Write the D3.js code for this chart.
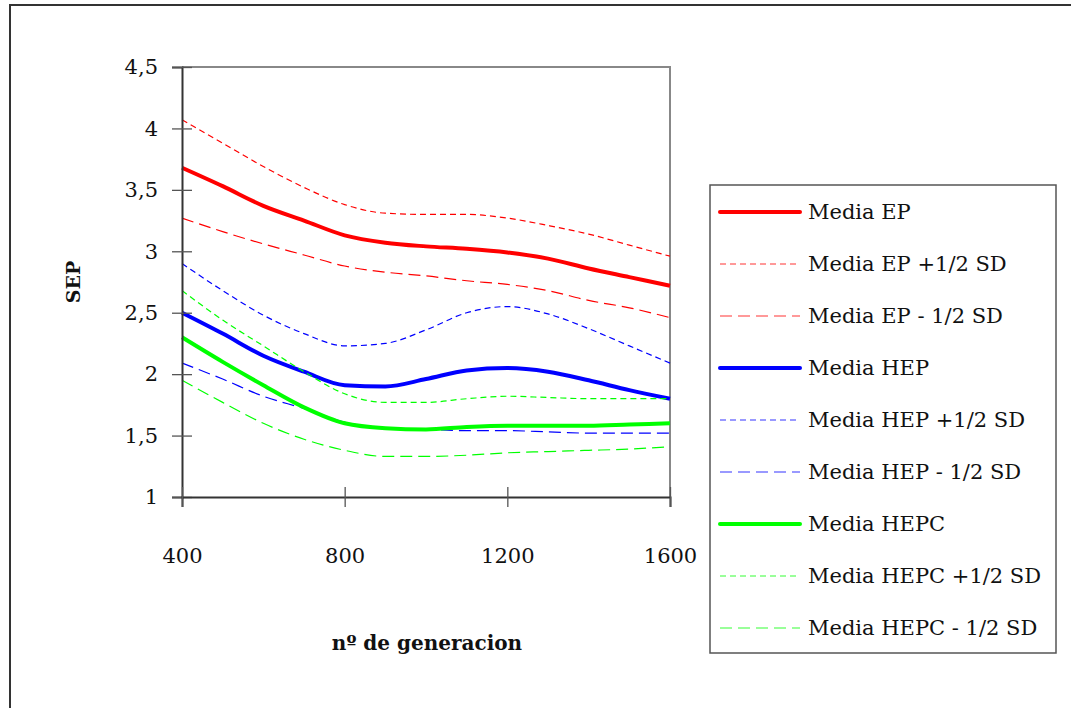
<!DOCTYPE html>
<html>
<head>
<meta charset="utf-8">
<script src="https://cdn.jsdelivr.net/npm/d3@7"></script>
<style>
  body { margin: 0; background: #fff; }
  svg { display: block; font-family: "DejaVu Serif"; }
</style>
</head>
<body>
<svg id="svg" width="1071" height="708"></svg>
<script>
// generations (x values)
const generations = [400, 500, 600, 700, 800, 900, 1000, 1100, 1200, 1300, 1400, 1500, 1600];

const mediaEP       = [3.68, 3.53, 3.37, 3.25, 3.13, 3.07, 3.04, 3.02, 2.99, 2.94, 2.86, 2.79, 2.72];
const mediaEPplus   = [4.07, 3.88, 3.69, 3.52, 3.38, 3.31, 3.30, 3.30, 3.27, 3.21, 3.14, 3.05, 2.96];
const mediaEPminus  = [3.27, 3.16, 3.06, 2.97, 2.88, 2.83, 2.80, 2.76, 2.73, 2.68, 2.60, 2.54, 2.46];
const mediaHEP      = [2.50, 2.33, 2.15, 2.02, 1.91, 1.90, 1.96, 2.03, 2.05, 2.02, 1.95, 1.87, 1.80];
const mediaHEPplus  = [2.90, 2.68, 2.48, 2.33, 2.23, 2.25, 2.36, 2.50, 2.55, 2.49, 2.37, 2.23, 2.09];
const mediaHEPminus = [2.09, 1.96, 1.82, 1.72, 1.61, 1.56, 1.55, 1.54, 1.54, 1.53, 1.52, 1.52, 1.52];
const mediaHEPC     = [2.30, 2.10, 1.91, 1.73, 1.60, 1.56, 1.55, 1.57, 1.58, 1.58, 1.58, 1.59, 1.60];
const mediaHEPCplus = [2.68, 2.44, 2.23, 2.02, 1.84, 1.77, 1.77, 1.80, 1.82, 1.81, 1.80, 1.80, 1.80];
const mediaHEPCminus= [1.95, 1.77, 1.60, 1.47, 1.38, 1.33, 1.33, 1.34, 1.36, 1.37, 1.38, 1.39, 1.41];

const yTicks = [1, 1.5, 2, 2.5, 3, 3.5, 4, 4.5];
const xTicks = [400, 800, 1200, 1600];

// series table: name, values, colour, style
const series = [
  { name: "Media EP",             values: mediaEP,        color: "#ff0000", kind: "solid" },
  { name: "Media EP +1/2 SD",     values: mediaEPplus,    color: "#ff0000", kind: "short" },
  { name: "Media EP - 1/2 SD",    values: mediaEPminus,   color: "#ff0000", kind: "long" },
  { name: "Media HEP",            values: mediaHEP,       color: "#0000ff", kind: "solid" },
  { name: "Media HEP +1/2 SD",    values: mediaHEPplus,   color: "#0000ff", kind: "short" },
  { name: "Media HEP - 1/2 SD",   values: mediaHEPminus,  color: "#0000ff", kind: "long" },
  { name: "Media HEPC",           values: mediaHEPC,      color: "#00ff00", kind: "solid" },
  { name: "Media HEPC +1/2 SD",   values: mediaHEPCplus,  color: "#00ff00", kind: "short" },
  { name: "Media HEPC - 1/2 SD",  values: mediaHEPCminus, color: "#00ff00", kind: "long" }
];

const styleFor = {
  solid: { width: 4, dash: null },
  short: { width: 1.2, dash: "6,4" },
  long:  { width: 1.2, dash: "12,6" }
};

const FONT = "DejaVu Serif";
const svg = d3.select("#svg");
const plot = { left: 182, right: 670, top: 67, bottom: 497 };

const x = d3.scaleLinear().domain([400, 1600]).range([plot.left, plot.right]);
const y = d3.scaleLinear().domain([1, 4.5]).range([plot.bottom, plot.top]);

// outer frame
svg.append("path")
  .attr("d", "M10,720 L10,5 L1080,5")
  .attr("fill", "none").attr("stroke", "#333").attr("stroke-width", 2);

// plot frame top/right (grey)
svg.append("path")
  .attr("d", `M${plot.left},${plot.top} L${plot.right},${plot.top} L${plot.right},${plot.bottom}`)
  .attr("fill", "none").attr("stroke", "#888").attr("stroke-width", 2);

// series lines
const line = d3.line()
  .x((d, i) => x(generations[i]))
  .y(d => y(d))
  .curve(d3.curveMonotoneX);

svg.append("g").selectAll("path")
  .data(series)
  .join("path")
  .attr("d", d => line(d.values))
  .attr("fill", "none")
  .attr("stroke", d => d.color)
  .attr("stroke-width", d => styleFor[d.kind].width)
  .attr("stroke-dasharray", d => styleFor[d.kind].dash)
  .attr("stroke-linejoin", "round");

// y axis
const yAxis = d3.axisLeft(y).tickValues(yTicks)
  .tickSize(10)
  .tickFormat(d => String(d).replace(".", ","));
const gy = svg.append("g").attr("transform", `translate(${plot.left},0)`).call(yAxis);
gy.select(".domain").attr("stroke", "#333").attr("stroke-width", 2);
gy.selectAll(".tick line").attr("x2", -10).attr("x1", 10).attr("stroke", "#555").attr("stroke-width", 1.3);
gy.selectAll(".tick text").attr("x", -24).attr("font-size", 21).attr("fill", "#111")
  .attr("font-family", FONT);

// x axis
const xAxis = d3.axisBottom(x).tickValues(xTicks).tickSize(10).tickFormat(d3.format("d"));
const gx = svg.append("g").attr("transform", `translate(0,${plot.bottom})`).call(xAxis);
gx.select(".domain").attr("stroke", "#333").attr("stroke-width", 2);
gx.selectAll(".tick line").attr("y1", -10).attr("y2", 10).attr("stroke", "#555").attr("stroke-width", 1.3);
gx.selectAll(".tick text").attr("y", 60).attr("dy", "0.3em").attr("font-size", 21).attr("fill", "#111")
  .attr("font-family", FONT);

// axis titles
svg.append("text")
  .attr("transform", "translate(80,282) rotate(-90)")
  .attr("text-anchor", "middle")
  .attr("font-family", FONT)
  .attr("font-size", 19).attr("font-weight", "bold").attr("fill", "#111")
  .text("SEP");

svg.append("text")
  .attr("x", 427).attr("y", 650)
  .attr("text-anchor", "middle")
  .attr("font-family", FONT)
  .attr("font-size", 20).attr("font-weight", "bold").attr("fill", "#111")
  .text("nº de generacion");

// legend
const legend = svg.append("g");
legend.append("rect")
  .attr("x", 710).attr("y", 185).attr("width", 346).attr("height", 468)
  .attr("fill", "#fff").attr("stroke", "#555").attr("stroke-width", 1.5);

const rows = legend.selectAll("g.row")
  .data(series)
  .join("g").attr("class", "row")
  .attr("transform", (d, i) => `translate(0,${212 + i * 52})`);

rows.append("line")
  .attr("x1", 720).attr("x2", 800)
  .attr("stroke", d => d.color)
  .attr("stroke-opacity", d => d.kind === "solid" ? 1 : 0.8)
  .attr("stroke-width", d => styleFor[d.kind].width)
  .attr("stroke-dasharray", d => styleFor[d.kind].dash)
  .attr("stroke-linecap", d => d.kind === "solid" ? "round" : "butt");

rows.append("text")
  .attr("x", 808).attr("dy", "0.35em")
  .attr("font-family", FONT)
  .attr("font-size", 21).attr("fill", "#111")
  .text(d => d.name);
</script>
</body>
</html>
